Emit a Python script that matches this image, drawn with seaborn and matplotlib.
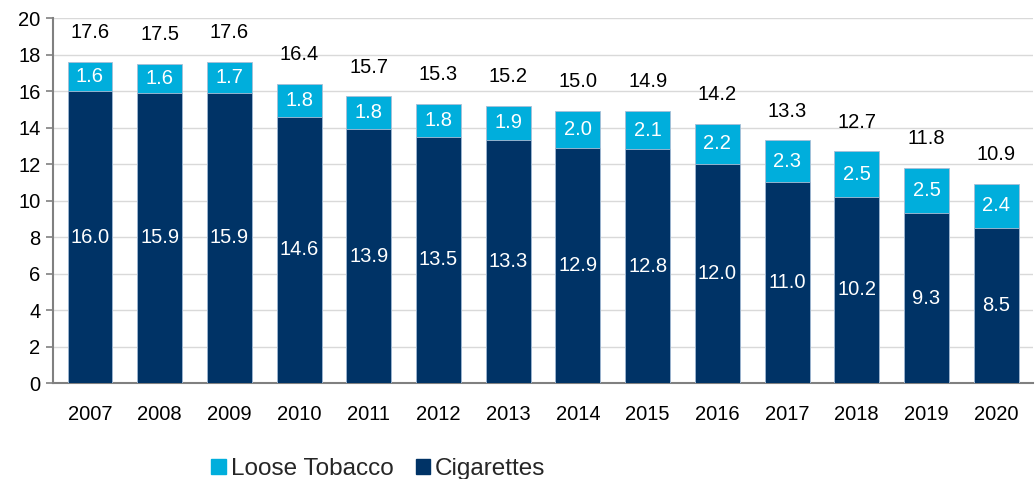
import matplotlib
matplotlib.use("Agg")
import matplotlib.pyplot as plt
import seaborn as sns
import pandas as pd
import numpy as np

years = ["2007", "2008", "2009", "2010", "2011", "2012", "2013",
         "2014", "2015", "2016", "2017", "2018", "2019", "2020"]
cigarettes = [16.0, 15.9, 15.9, 14.6, 13.9, 13.5, 13.3, 12.9, 12.8, 12.0, 11.0, 10.2, 9.3, 8.5]
loose_tobacco = [1.6, 1.6, 1.7, 1.8, 1.8, 1.8, 1.9, 2.0, 2.1, 2.2, 2.3, 2.5, 2.5, 2.4]
totals = [17.6, 17.5, 17.6, 16.4, 15.7, 15.3, 15.2, 15.0, 14.9, 14.2, 13.3, 12.7, 11.8, 10.9]

LIGHT = "#00AEDC"
DARK = "#003366"
FS = 14.5

sns.set_theme(style="white")
plt.rcParams["font.family"] = ["Liberation Sans", "DejaVu Sans"]

df = pd.DataFrame({"year": years, "Cigarettes": cigarettes,
                   "Loose Tobacco": loose_tobacco, "Total": totals})
df["stack"] = df["Cigarettes"] + df["Loose Tobacco"]

fig = plt.figure(figsize=(10.36, 4.79), dpi=100)
ax = fig.add_axes([0.0512, 0.2004, 0.946, 0.762])

width = 0.645
# Draw the full stack first, then the cigarette portion over it
sns.barplot(data=df, x="year", y="stack", color=LIGHT, width=width,
            edgecolor="#A9BED6", linewidth=0.6, saturation=1, ax=ax, zorder=3)
sns.barplot(data=df, x="year", y="Cigarettes", color=DARK, width=width,
            edgecolor="#A9BED6", linewidth=0.6, saturation=1, ax=ax, zorder=3)

ax.set_ylim(0, 20)
ax.set_xlim(-0.53, len(years) - 0.47)
ax.set_yticks(np.arange(0, 21, 2))
ax.set_xlabel("")
ax.set_ylabel("")
ax.yaxis.grid(True, color="#D9D9D9", linewidth=1.0, zorder=0)
ax.set_axisbelow(True)
for s in ["top", "right"]:
    ax.spines[s].set_visible(False)
for s in ["left", "bottom"]:
    ax.spines[s].set_color("#808080")
    ax.spines[s].set_linewidth(1.5)
ax.tick_params(axis="y", left=True, length=5, width=1.2, color="#808080",
               labelsize=FS, labelcolor="black", pad=4)
ax.tick_params(axis="x", bottom=False, labelsize=FS, labelcolor="black", pad=10)

for i in range(len(years)):
    c = cigarettes[i]
    l = loose_tobacco[i]
    ax.text(i, c / 2, f"{c:.1f}", ha="center", va="center",
            color="white", fontsize=FS, zorder=5)
    ax.text(i, c + l / 2, f"{l:.1f}", ha="center", va="center",
            color="white", fontsize=FS, zorder=5)
    ax.annotate(f"{totals[i]:.1f}", xy=(i, c + l), xytext=(0, 21),
                textcoords="offset points", ha="center", va="center",
                color="black", fontsize=FS, zorder=5, annotation_clip=False)

handles = [plt.Rectangle((0, 0), 1, 1, color=LIGHT),
           plt.Rectangle((0, 0), 1, 1, color=DARK)]
fig.legend(handles, ["Loose Tobacco", "Cigarettes"], loc="lower left",
           bbox_to_anchor=(0.183, -0.048), ncol=2, frameon=False,
           fontsize=17.5, handlelength=0.6, handleheight=0.6,
           handletextpad=0.2, columnspacing=0.9)

fig.savefig("out.png", dpi=100)
